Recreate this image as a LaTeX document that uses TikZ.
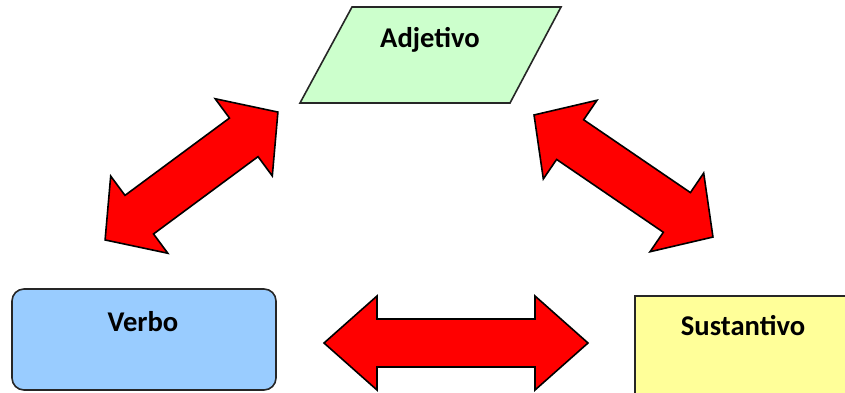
\documentclass[tikz,border=0pt]{standalone}
\usepackage{fontspec}
\setmainfont{Carlito}
\definecolor{adjgreen}{RGB}{204,255,204}
\definecolor{verboblue}{RGB}{153,204,255}
\definecolor{sustyellow}{RGB}{255,255,153}
\definecolor{arrowred}{RGB}{255,0,0}
\newcommand\blockarrow[7]{%
  \begin{scope}[shift={(#1,#2)},rotate=#3]
    \draw[arrowshape] ({-#4/2},0) -- ({-#4/2+#5},#6) -- ({-#4/2+#5},#7) -- ({#4/2-#5},#7)
      -- ({#4/2-#5},#6) -- ({#4/2},0) -- ({#4/2-#5},-#6) -- ({#4/2-#5},-#7)
      -- ({-#4/2+#5},-#7) -- ({-#4/2+#5},-#6) -- cycle;
  \end{scope}}
\tikzset{
  arrowshape/.style={fill=arrowred,draw=black,line width=0.8pt,line join=miter},
  boxline/.style={draw=black!85,line width=0.8pt},
  label/.style={font=\bfseries\fontsize{14.3}{16}\selectfont,inner sep=0pt}
}
\begin{document}
\begin{tikzpicture}[x=0.5pt,y=-0.5pt]
\useasboundingbox (0,0) rectangle (845,392);
\clip (0,0) rectangle (845,392);
% Adjetivo parallelogram
\draw[boxline,fill=adjgreen] (352,7) -- (561,7) -- (510,103) -- (300,103) -- cycle;
\node[label] (adjetivo) at (430,40) {Adjetivo};
% Verbo rounded box
\draw[boxline,fill=verboblue,rounded corners=6pt] (12,289) rectangle (276,390);
\node[label] (verbo) at (143,322) {Verbo};
% Sustantivo box
\draw[boxline,fill=sustyellow] (635,296) rectangle (870,410);
\node[label] (sustantivo) at (743,326) {Sustantivo};
% block arrows
\blockarrow{191.5}{176}{36.5}{215}{42.5}{48}{24}
\blockarrow{623.5}{176}{-34.3}{216.6}{43.7}{47.6}{24}
\blockarrow{456}{343}{0}{264}{53}{47}{24}
\end{tikzpicture}
\end{document}
